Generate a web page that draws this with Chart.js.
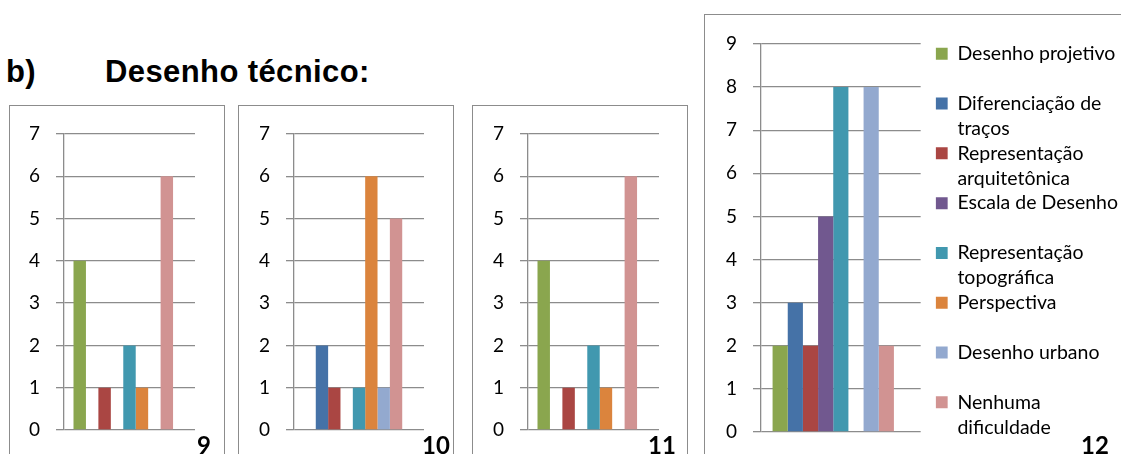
<!DOCTYPE html>
<html>
<head>
<meta charset="utf-8">
<script src="https://cdn.jsdelivr.net/npm/chart.js@4.4.1/dist/chart.umd.min.js"></script>
<style>
  html, body { margin: 0; padding: 0; background: #fff; }
  body { width: 1121px; height: 454px; overflow: hidden; position: relative; }
  .heading { position: absolute; top: 56px; font: bold 31px "Liberation Sans", Arial, sans-serif; letter-spacing: 0.4px; line-height: 1; color: #000; white-space: nowrap; }
  .frame { position: absolute; border: 1px solid #8c8c8c; background: #fff; }
  canvas { position: absolute; }
  .num { position: absolute; top: 433px; font: bold 24px Lato, sans-serif; line-height: 1; color: #000; }
</style>
</head>
<body>
<div class="heading" style="left:6px">b)</div>
<div class="heading" style="left:105px">Desenho técnico:</div>

<div class="frame" style="left:9px;top:105px;width:214px;height:400px"></div>
<div class="frame" style="left:238px;top:105px;width:214px;height:400px"></div>
<div class="frame" style="left:472px;top:105px;width:214px;height:400px"></div>
<div class="frame" style="left:704px;top:14px;width:460px;height:500px"></div>

<canvas id="c9" width="214" height="364" style="left:10px;top:106px"></canvas>
<canvas id="c10" width="214" height="364" style="left:239px;top:106px"></canvas>
<canvas id="c11" width="214" height="364" style="left:473px;top:106px"></canvas>
<canvas id="c12" width="440" height="455" style="left:705px;top:15px"></canvas>

<div class="num" style="left:197px">9</div>
<div class="num" style="left:422px">10</div>
<div class="num" style="left:648px">11</div>
<div class="num" style="left:1081px">12</div>

<script>
const seriesNames = [
  "Desenho projetivo",
  "Diferenciação de traços",
  "Representação arquitetônica",
  "Escala de Desenho",
  "Representação topográfica",
  "Perspectiva",
  "Desenho urbano",
  "Nenhuma dificuldade"
];
// legend text as Excel wrapped it (every entry takes two lines)
const legendLines = [
  ["Desenho projetivo", ""],
  ["Diferenciação de", "traços"],
  ["Representação", "arquitetônica"],
  ["Escala de Desenho", ""],
  ["Representação", "topográfica"],
  ["Perspectiva", ""],
  ["Desenho urbano", ""],
  ["Nenhuma", "dificuldade"]
];
const seriesColors = ["#8aa64e", "#4572a7", "#aa4643", "#71588f", "#4198af", "#db843d", "#93a9cf", "#d19392"];

const values9 = [4, 0, 1, 0, 2, 1, 0, 6];
const values10 = [0, 2, 1, 0, 1, 6, 1, 5];
const values11 = [4, 0, 1, 0, 2, 1, 0, 6];
const values12 = [2, 3, 2, 5, 8, 0, 8, 2];

const yMaxSmall = 7;
const yMaxLarge = 9;

const GRID = "#8c8c8c";

function drawPanel(id, values, yMax, opts) {
  const datasets = values.map((v, i) => ({
    label: seriesNames[i],
    data: [v],
    backgroundColor: seriesColors[i],
    borderWidth: 0,
    categoryPercentage: 0.855,
    barPercentage: 1
  }));
  // Excel leaves one empty slot after the last series
  datasets.push({ label: "", data: [null], categoryPercentage: 0.855, barPercentage: 1 });

  const scales = {
    x: {
      grid: { display: false },
      border: { display: false },
      ticks: { display: false },
      afterFit: (s) => { s.height = opts.bottom; }
    },
    y: {
      min: 0,
      max: yMax,
      ticks: { stepSize: 1, color: "#000", padding: 16, font: { family: "Lato", size: 19 } },
      grid: { color: GRID, lineWidth: 1.3, tickLength: 8 },
      border: { color: GRID, width: 1.3 },
      afterFit: (s) => { s.width = opts.axisWidth; }
    }
  };
  if (opts.legend) {
    // gap between plot and legend
    scales.y2 = {
      position: "right",
      grid: { display: false },
      border: { display: false },
      ticks: { display: false },
      afterFit: (s) => { s.width = opts.legendGap; }
    };
  }

  return new Chart(document.getElementById(id), {
    type: "bar",
    data: { labels: [""], datasets },
    options: {
      responsive: false,
      animation: false,
      layout: { padding: { left: 0, top: opts.top, right: opts.right, bottom: 0 } },
      scales,
      plugins: {
        tooltip: { enabled: false },
        legend: opts.legend ? {
          display: true,
          position: "right",
          align: "start",
          maxWidth: 400,
          labels: {
            boxWidth: 12,
            boxHeight: 12,
            padding: 0,
            color: "#000",
            font: { family: "Lato", size: 19.5, lineHeight: 1.277 },
            generateLabels: () => legendLines.map((lines, i) => ({
              text: lines,
              fillStyle: seriesColors[i],
              strokeStyle: seriesColors[i],
              lineWidth: 0,
              hidden: false,
              datasetIndex: i
            }))
          }
        } : { display: false }
      }
    }
  });
}

drawPanel("c9", values9, yMaxSmall, { axisWidth: 54, top: 28, right: 29, bottom: 40 });
drawPanel("c10", values10, yMaxSmall, { axisWidth: 55, top: 28, right: 29, bottom: 40 });
drawPanel("c11", values11, yMaxSmall, { axisWidth: 55, top: 28, right: 28, bottom: 40 });
drawPanel("c12", values12, yMaxLarge, { axisWidth: 56, top: 29, right: 17, bottom: 38, legend: true, legendGap: 15 });
</script>
</body>
</html>
